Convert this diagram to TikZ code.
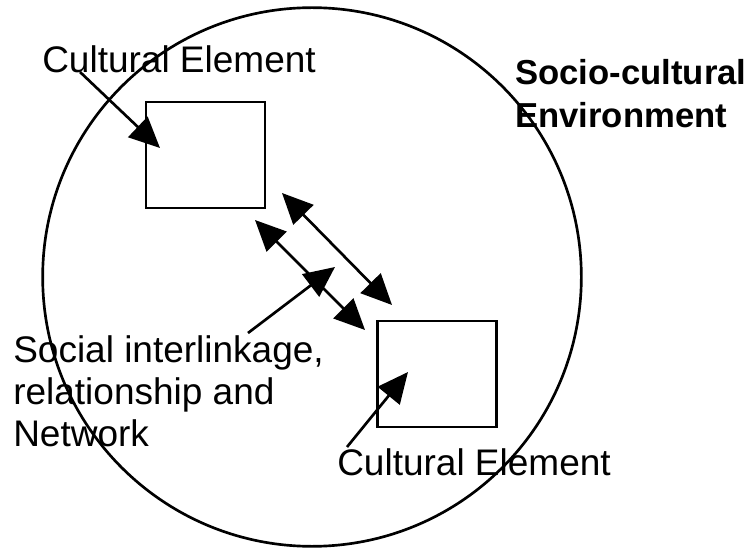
\documentclass[tikz,border=0pt]{standalone}
\usepackage{fontspec}
\setmainfont{Liberation Sans}
\usetikzlibrary{arrows.meta}
\tikzset{
  elem/.style={draw,line width=2.2pt,minimum width=89.25pt,minimum height=79.5pt,inner sep=0pt},
  lbl/.style={inner sep=0pt,anchor=base west,align=left,font=\fontsize{27.75}{31.5}\selectfont},
  head/.tip={Triangle[length=23pt,width=21pt]},
  link/.style={line width=2pt,-head},
  twoway/.style={line width=2pt,head-head}
}
\begin{document}
\begin{tikzpicture}[x=0.75pt,y=-0.75pt]
\useasboundingbox (0,0) rectangle (755,548);
\node[draw,circle,line width=2pt,minimum size=404pt,inner sep=0pt] (env) at (312,277) {};
\node[elem] (elemA) at (205.5,155) {};
\node[elem] (elemB) at (437,374) {};
\node[lbl] (labA) at (42,73) {Cultural Element};
\node[lbl] (labB) at (337,475) {Cultural Element};
\node[lbl] (labNet) at (13,446) {Social interlinkage,\\relationship and\\Network};
\node[lbl,font=\bfseries\fontsize{26}{32.25}\selectfont] (labEnv) at (515,128) {Socio-cultural\\Environment};
\coordinate (footA) at (80,72);
\coordinate (tipA) at (160,148);
\coordinate (footB) at (347,447);
\coordinate (tipB) at (408,372);
\coordinate (footNet) at (248,333);
\coordinate (tipNet) at (335,267);
\coordinate (upA) at (282,193);
\coordinate (downA) at (392,305);
\coordinate (upB) at (255,220);
\coordinate (downB) at (365,330);
\draw[link] (footA) -- (tipA);
\draw[link] (footB) -- (tipB);
\draw[twoway] (upA) -- (downA);
\draw[twoway] (upB) -- (downB);
\draw[link] (footNet) -- (tipNet);
\end{tikzpicture}
\end{document}
